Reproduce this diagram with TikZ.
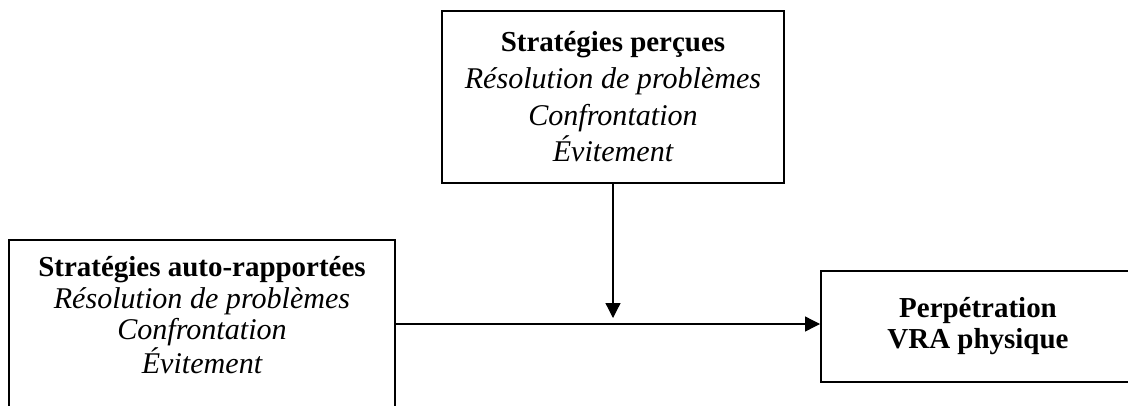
\documentclass[tikz,border=0pt]{standalone}
\usepackage{fontspec}
\setmainfont{Liberation Serif}
\usepackage{tikz}
\usetikzlibrary{arrows.meta}
\newcommand{\itl}[1]{{\fontsize{21.4}{21.4}\selectfont\itshape #1}}
\tikzset{
    box/.style={shape=rectangle, draw=black, line width=1.4pt, align=center, inner sep=0pt},
    link/.style={line width=0.9pt, -{Triangle[length=0.375cm, width=0.375cm]}}}

\begin{document}
\begin{tikzpicture}

            \clip (0,0) rectangle (28.2,-10.125);

            \node[box, minimum width=8.55cm, minimum height=4.3cm, font=\fontsize{20.6}{26.1}\selectfont] (P) at (15.325,-2.425) {\textbf{Stratégies perçues}\\ \itl{Résolution de problèmes}\\ \itl{Confrontation}\\ \itl{Évitement}};
            \node[box, minimum width=9.65cm, minimum height=4.2cm, font=\fontsize{20.6}{22.3}\selectfont] (A) at (5.05,-8.1) {\textbf{Stratégies auto-rapportées}\\ \itl{Résolution de problèmes}\\ \itl{Confrontation}\\ \itl{Évitement}\rule[-0.45cm]{0pt}{0pt}};
            \node[box, minimum width=7.85cm, minimum height=2.775cm, font=\fontsize{20.6}{22}\selectfont\bfseries] (V) at (24.45,-8.1625) {Perpétration\\ VRA physique};

            \coordinate (M) at (P.south |- A.east);

            \draw[link] (A.east) -- (A.east -| V.west);
            \draw[link, shorten >=0.15cm] (P.south) -- (M);

        \end{tikzpicture}
\end{document}
